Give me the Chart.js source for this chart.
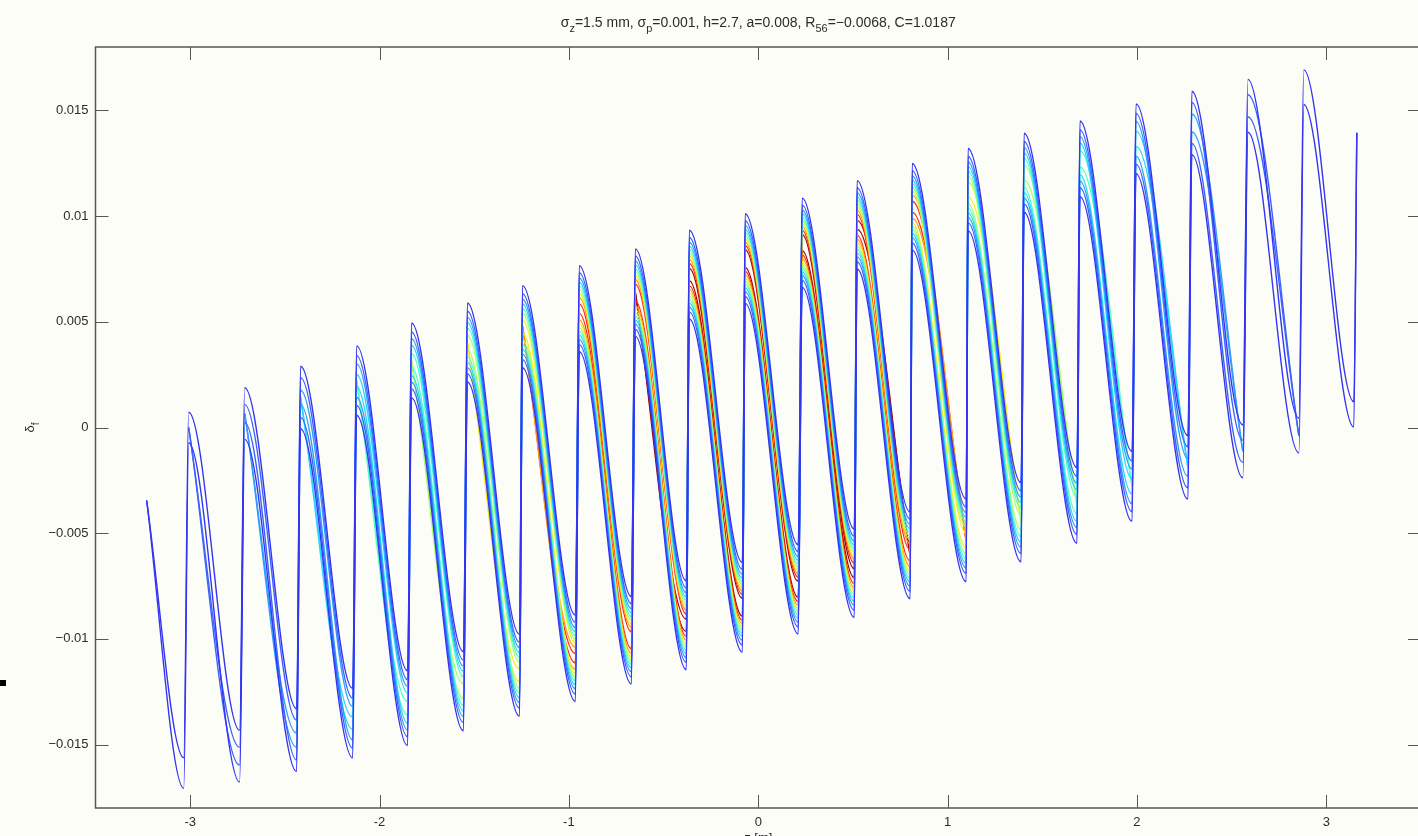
<!DOCTYPE html>
<html>
<head>
<meta charset="utf-8">
<script src="https://cdn.jsdelivr.net/npm/chart.js@4.4.0/dist/chart.umd.min.js"></script>
<style>
  html, body { margin: 0; padding: 0; background: #fdfdf8; overflow: hidden; }
  #wrap { width: 1418px; height: 836px; overflow: hidden; }
</style>
</head>
<body>
<div id="wrap"><canvas id="phase" width="1440" height="836"></canvas></div>
<script>
// ridge of the final phase-space curve: bottom and top of every finger
const troughZ = [-3.034, -2.739, -2.438, -2.142, -1.852, -1.557, -1.261, -0.966, -0.670, -0.380, -0.084,
                 0.211, 0.507, 0.802, 1.098, 1.388, 1.683, 1.974, 2.269, 2.559, 2.855, 3.145];
const troughD = [-0.01635, -0.01555, -0.01479, -0.01399, -0.01328, -0.01248, -0.01172, -0.01092, -0.01007, -0.00936, -0.00851,
                 -0.00766, -0.0069, -0.00605, -0.00534, -0.00449, -0.00369, -0.00279, -0.00189, -0.00113, -0.00038, 0.00062];
const peakZ = [-3.008, -2.712, -2.417, -2.121, -1.831, -1.536, -1.245, -0.945, -0.649, -0.364, -0.069,
               0.232, 0.522, 0.813, 1.108, 1.404, 1.699, 1.995, 2.290, 2.586, 2.881];
const peakD = [0.0, 0.00066, 0.00142, 0.00222, 0.00317, 0.00402, 0.00477, 0.00562, 0.00638, 0.00723, 0.00799,
               0.00874, 0.00959, 0.01044, 0.01125, 0.01205, 0.01271, 0.01366, 0.01441, 0.01522, 0.0161];
// ends of the curve
const curveStart = [-3.23, -0.00345];
const curveEnd = [3.161, 0.01394];

// half width in delta of each contour level around the ridge, per finger (null = level absent)
const N = null;
const levelHalfWidth = [
  [0.00072, 0.00122, 0.00148, 0.00164, 0.00177, 0.00187, 0.00194, 0.00204, 0.00207, 0.0021, 0.00212, 0.00211, 0.00209, 0.00205, 0.00195, 0.00187, 0.00179, 0.00165, 0.0015, 0.00125, 0.00082, 0.0006],
  [N, 0.00042, 0.00094, 0.00118, 0.00135, 0.00148, 0.00156, 0.0017, 0.00173, 0.00176, 0.00179, 0.00178, 0.00175, 0.00171, 0.00157, 0.00148, 0.00137, 0.0012, 0.00097, 0.00052, N, N],
  [N, N, 0.00034, 0.00079, 0.00103, 0.00119, 0.0013, 0.00145, 0.00149, 0.00153, 0.00156, 0.00155, 0.00152, 0.00146, 0.00131, 0.00119, 0.00105, 0.00082, 0.00042, N, N, N],
  [N, N, N, 0.00029, 0.00072, 0.00094, 0.00107, 0.00125, 0.0013, 0.00134, 0.00138, 0.00137, 0.00133, 0.00126, 0.00109, 0.00094, 0.00075, 0.00036, N, N, N, N],
  [N, N, N, N, 0.00032, 0.00068, 0.00085, 0.00107, 0.00112, 0.00118, 0.00122, 0.0012, 0.00116, 0.00108, 0.00087, 0.00068, 0.00038, N, N, N, N, N],
  [N, N, N, N, N, 0.00034, 0.00062, 0.0009, 0.00096, 0.00102, 0.00107, 0.00105, 0.001, 0.00091, 0.00064, 0.00034, N, N, N, N, N, N],
  [N, N, N, N, N, N, 0.00031, 0.00072, 0.00079, 0.00087, 0.00092, 0.0009, 0.00084, 0.00074, 0.00035, N, N, N, N, N, N, N],
  [N, N, N, N, N, N, N, 0.00052, 0.00062, 0.00071, 0.00077, 0.00075, 0.00068, 0.00054, N, N, N, N, N, N, N, N],
  [N, N, N, N, N, N, N, 0.00022, 0.0004, 0.00053, 0.00061, 0.00058, 0.00049, 0.00026, N, N, N, N, N, N, N, N],
  [N, N, N, N, N, N, N, N, N, 0.00029, 0.00042, 0.00038, 0.00021, N, N, N, N, N, N, N, N, N]
];
const levelColors = ['#3434f2', '#3a62ff', '#2f9cff', '#28d6ff', '#4cffc8', '#a2ff6a', '#f2ee22', '#ff9a18', '#ff2a12', '#9c0606'];

const xTicks = [-3, -2, -1, 0, 1, 2, 3];
const xTickLabels = ['-3', '-2', '-1', '0', '1', '2', '3'];
const yTicks = [-0.015, -0.01, -0.005, 0, 0.005, 0.01, 0.015];
const yTickLabels = ['\u22120.015', '\u22120.01', '\u22120.005', '0', '0.005', '0.01', '0.015'];

const FONT = '"Liberation Sans", Arial, sans-serif';
const INK = '#2b2b2b';
const AXIS = '#555555';

// ridge as one sequence; f = finger index (-1 at the open ends)
const ridge = [{ z: curveStart[0], d: curveStart[1], f: -1 }];
troughZ.forEach((z, i) => {
  ridge.push({ z, d: troughD[i], f: i });
  if (i < peakZ.length) ridge.push({ z: peakZ[i], d: peakD[i], f: i });
});
ridge.push({ z: curveEnd[0], d: curveEnd[1], f: -1 });

// each level: an upper and a lower line that close on the ridge at both ends
const datasets = [];
levelHalfWidth.forEach((row, k) => {
  const has = p => p.f >= 0 && row[p.f] != null;
  const first = ridge.findIndex(has);
  let last = first;
  ridge.forEach((p, j) => { if (has(p)) last = j; });
  const seg = ridge.slice(first - 1, last + 2);
  const hw = seg.map((p, j) => (j === 0 || j === seg.length - 1) ? 0 : row[p.f]);
  [1, -1].forEach(side => {
    datasets.push({
      data: seg.map((p, j) => ({ x: p.z, y: p.d + side * hw[j] })),
      borderColor: levelColors[k],
      borderWidth: 1.4,
      pointRadius: 0,
      fill: false,
      cubicInterpolationMode: 'monotone'
    });
  });
});

function drawSub(ctx, parts, x, y, size) {
  // parts: [text, isSubscript]
  let cx = x;
  parts.forEach(([t, sub]) => {
    ctx.font = (sub ? Math.round(size * 0.75) : size) + 'px ' + FONT;
    ctx.fillText(t, cx, sub ? y + size * 0.35 : y);
    cx += ctx.measureText(t).width;
  });
  return cx - x;
}
function measureSub(ctx, parts, size) {
  let w = 0;
  parts.forEach(([t, sub]) => {
    ctx.font = (sub ? Math.round(size * 0.75) : size) + 'px ' + FONT;
    w += ctx.measureText(t).width;
  });
  return w;
}

const paper = {
  id: 'paper',
  beforeDraw(chart) {
    const ctx = chart.ctx;
    ctx.save();
    ctx.fillStyle = '#fdfdf8';
    ctx.fillRect(0, 0, chart.width, chart.height);
    ctx.restore();
  }
};

const frame = {
  id: 'frame',
  afterDraw(chart) {
    const ctx = chart.ctx;
    const a = chart.chartArea;
    const xs = chart.scales.x, ys = chart.scales.y;
    const tick = 13;
    ctx.save();
    ctx.strokeStyle = AXIS;
    ctx.lineWidth = 1.5;
    ctx.strokeRect(a.left, a.top, a.right - a.left, a.bottom - a.top);
    ctx.lineWidth = 1;
    ctx.beginPath();
    xTicks.forEach(v => {
      const px = Math.round(xs.getPixelForValue(v)) + 0.5;
      ctx.moveTo(px, a.bottom); ctx.lineTo(px, a.bottom - tick);
      ctx.moveTo(px, a.top); ctx.lineTo(px, a.top + tick);
    });
    yTicks.forEach(v => {
      const py = Math.round(ys.getPixelForValue(v)) + 0.5;
      ctx.moveTo(a.left, py); ctx.lineTo(a.left + tick, py);
      ctx.moveTo(a.right, py); ctx.lineTo(a.right - tick, py);
    });
    ctx.stroke();

    ctx.fillStyle = INK;
    ctx.font = '13px ' + FONT;
    ctx.textAlign = 'center';
    ctx.textBaseline = 'top';
    xTicks.forEach((v, i) => ctx.fillText(xTickLabels[i], xs.getPixelForValue(v), a.bottom + 8));
    ctx.textAlign = 'right';
    ctx.textBaseline = 'middle';
    yTicks.forEach((v, i) => ctx.fillText(yTickLabels[i], a.left - 7, ys.getPixelForValue(v)));

    // title
    ctx.textAlign = 'left';
    ctx.textBaseline = 'alphabetic';
    const title = [['\u03c3', 0], ['z', 1], ['=1.5 mm, \u03c3', 0], ['p', 1], ['=0.001, h=2.7, a=0.008, R', 0], ['56', 1], ['=\u22120.0068, C=1.0187', 0]];
    const tw = measureSub(ctx, title, 14);
    drawSub(ctx, title, (a.left + a.right) / 2 - tw / 2, 27, 14);

    // axis labels
    const xl = [['z [m]', 0]];
    const xw = measureSub(ctx, xl, 13);
    drawSub(ctx, xl, (a.left + a.right) / 2 - xw / 2, 842, 13);
    ctx.save();
    ctx.translate(34, (a.top + a.bottom) / 2);
    ctx.rotate(-Math.PI / 2);
    const yl = [['\u03b4', 0], ['f', 1]];
    const yw = measureSub(ctx, yl, 13);
    drawSub(ctx, yl, -yw / 2, 0, 13);
    ctx.restore();

    ctx.fillStyle = '#000';
    ctx.fillRect(0, 680, 6, 6);
    ctx.restore();
  }
};

new Chart(document.getElementById('phase').getContext('2d'), {
  type: 'line',
  data: { datasets },
  options: {
    responsive: false,
    animation: false,
    events: [],
    layout: { padding: { left: 95.5, top: 47, right: 19, bottom: 28 } },
    scales: {
      x: { type: 'linear', min: -3.5, max: 3.5, display: false },
      y: { type: 'linear', min: -0.018, max: 0.018, display: false }
    },
    plugins: { legend: { display: false }, tooltip: { enabled: false } }
  },
  plugins: [paper, frame]
});
</script>
</body>
</html>
